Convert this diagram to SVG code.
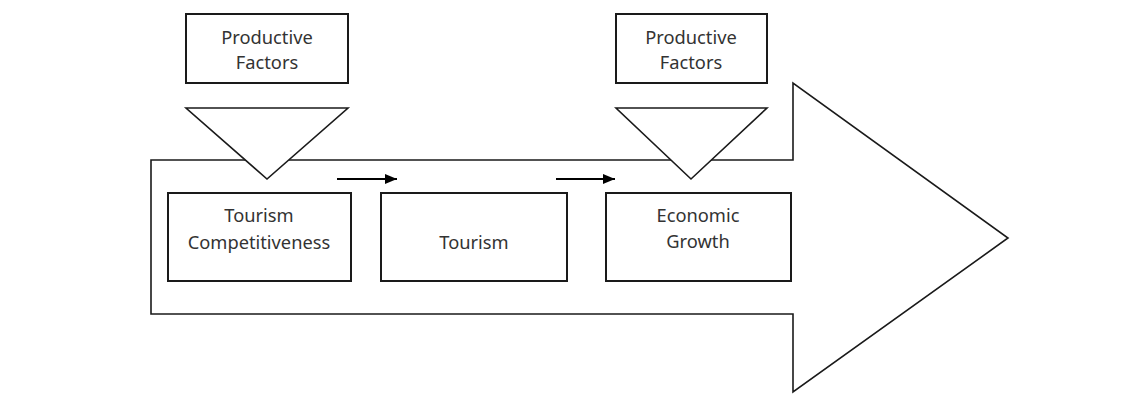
<svg xmlns="http://www.w3.org/2000/svg" width="1138" height="415" viewBox="0 0 1138 415">
<defs>
<style>
.box{fill:#fff;stroke:#1a1a1a;stroke-width:2}
.shape{fill:#fff;stroke:#1a1a1a;stroke-width:1.6;stroke-linejoin:miter}
.lbl{font-family:"Noto Sans","Open Sans",sans-serif;font-size:18.3px;fill:#333;text-anchor:middle}
.conn{stroke:#000;stroke-width:2;fill:none}
</style>
<marker id="ah" viewBox="0 0 12 10" refX="12" refY="5" markerWidth="12" markerHeight="10" markerUnits="userSpaceOnUse" orient="auto">
<path d="M0,0 L12,5 L0,10 Z" fill="#000"/>
</marker>
</defs>
<rect width="1138" height="415" fill="#fff"/>
<g id="big-arrow">
<polygon class="shape" points="151,160 793,160 793,83 1008,238 793,392 793,314 151,314"/>
</g>
<g id="pf1">
<rect class="box" x="186" y="14" width="162" height="69"/>
<text class="lbl" x="267" y="44">Productive</text>
<text class="lbl" x="267" y="69">Factors</text>
</g>
<g id="tri1">
<polygon class="shape" points="186,108 348,108 267,179"/>
</g>
<g id="pf2">
<rect class="box" x="616" y="14" width="151" height="69"/>
<text class="lbl" x="691" y="44">Productive</text>
<text class="lbl" x="691" y="69">Factors</text>
</g>
<g id="tri2">
<polygon class="shape" points="616,108 767,108 691,179"/>
</g>
<g id="tc">
<rect class="box" x="168" y="193" width="183" height="88"/>
<text class="lbl" x="259" y="222">Tourism</text>
<text class="lbl" x="259" y="249">Competitiveness</text>
</g>
<g id="tourism">
<rect class="box" x="381" y="193" width="186" height="88"/>
<text class="lbl" x="474" y="249">Tourism</text>
</g>
<g id="eg">
<rect class="box" x="606" y="193" width="185" height="88"/>
<text class="lbl" x="698" y="222">Economic</text>
<text class="lbl" x="698" y="248">Growth</text>
</g>
<g id="connectors">
<line class="conn" x1="337" y1="179" x2="397" y2="179" marker-end="url(#ah)"/>
<line class="conn" x1="556" y1="179" x2="615" y2="179" marker-end="url(#ah)"/>
</g>
</svg>
